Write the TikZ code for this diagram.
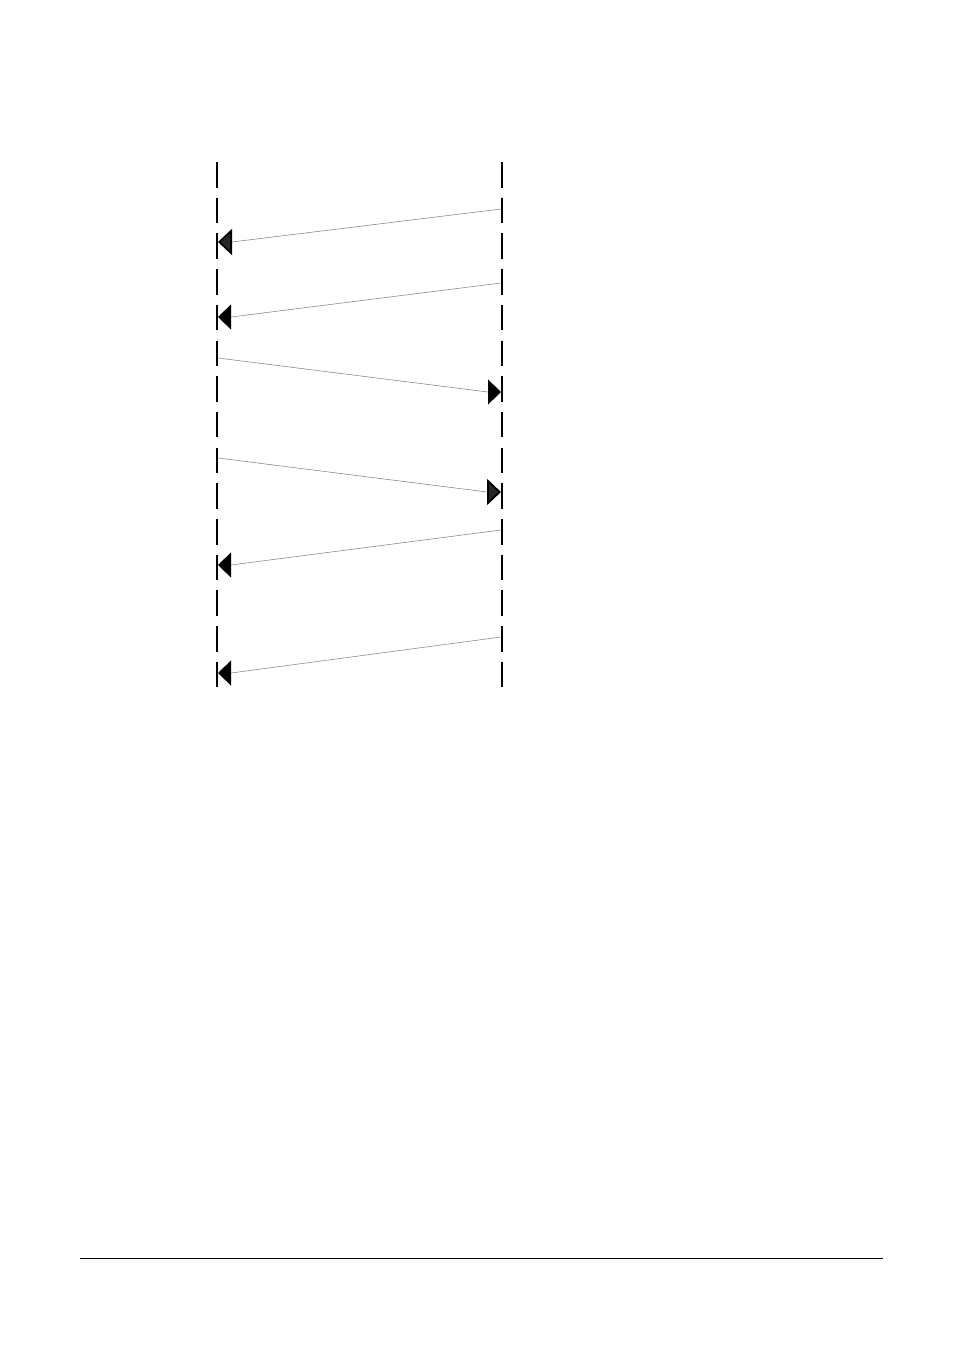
\documentclass[tikz,border=0pt]{standalone}
\usetikzlibrary{arrows.meta,calc}
\begin{document}
\begin{tikzpicture}[x=1pt,y=-1pt,
  lifeline/.style={line width=2pt, dash pattern=on 25.5pt off 10.2pt},
  msg/.style={line width=0.6pt, draw=black!45},
  solidhead/.style={-{Triangle[length=13pt,width=25pt,fill=black,color=black,line width=0.8pt]}},
  doublehead/.style={-{Triangle[length=14pt,width=26pt,fill=black!85,color=black,line width=1.8pt]}},
  footer/.style={line width=1pt}]
\useasboundingbox (0,0) rectangle (954,1346);
% lifelines
\coordinate (Ltop) at (217,162);
\coordinate (Lbot) at (217,688);
\coordinate (Rtop) at (502,162);
\coordinate (Rbot) at (502,688);
\draw[lifeline] (Ltop) -- (Lbot);
\draw[lifeline] (Rtop) -- (Rbot);
% messages
\coordinate (a1s) at (501,209); \coordinate (a1e) at (218,242);
\coordinate (a2s) at (501,283); \coordinate (a2e) at (218,317);
\coordinate (a3s) at (218,358); \coordinate (a3e) at (501,392);
\coordinate (a4s) at (218,458); \coordinate (a4e) at (501,492);
\coordinate (a5s) at (501,530); \coordinate (a5e) at (218,565);
\coordinate (a6s) at (501,637); \coordinate (a6e) at (218,673);
\draw[msg,doublehead] (a1s) -- ($(a1e)+(14,0)$) -- (a1e);
\draw[msg,solidhead] (a2s) -- ($(a2e)+(13,0)$) -- (a2e);
\draw[msg,solidhead] (a3s) -- ($(a3e)+(-13,0)$) -- (a3e);
\draw[msg,doublehead] (a4s) -- ($(a4e)+(-14,0)$) -- (a4e);
\draw[msg,solidhead] (a5s) -- ($(a5e)+(13,0)$) -- (a5e);
\draw[msg,solidhead] (a6s) -- ($(a6e)+(13,0)$) -- (a6e);
% footer rule
\coordinate (f1) at (80,1258);
\coordinate (f2) at (883,1258);
\draw[footer] (f1) -- (f2);
\end{tikzpicture}
\end{document}
